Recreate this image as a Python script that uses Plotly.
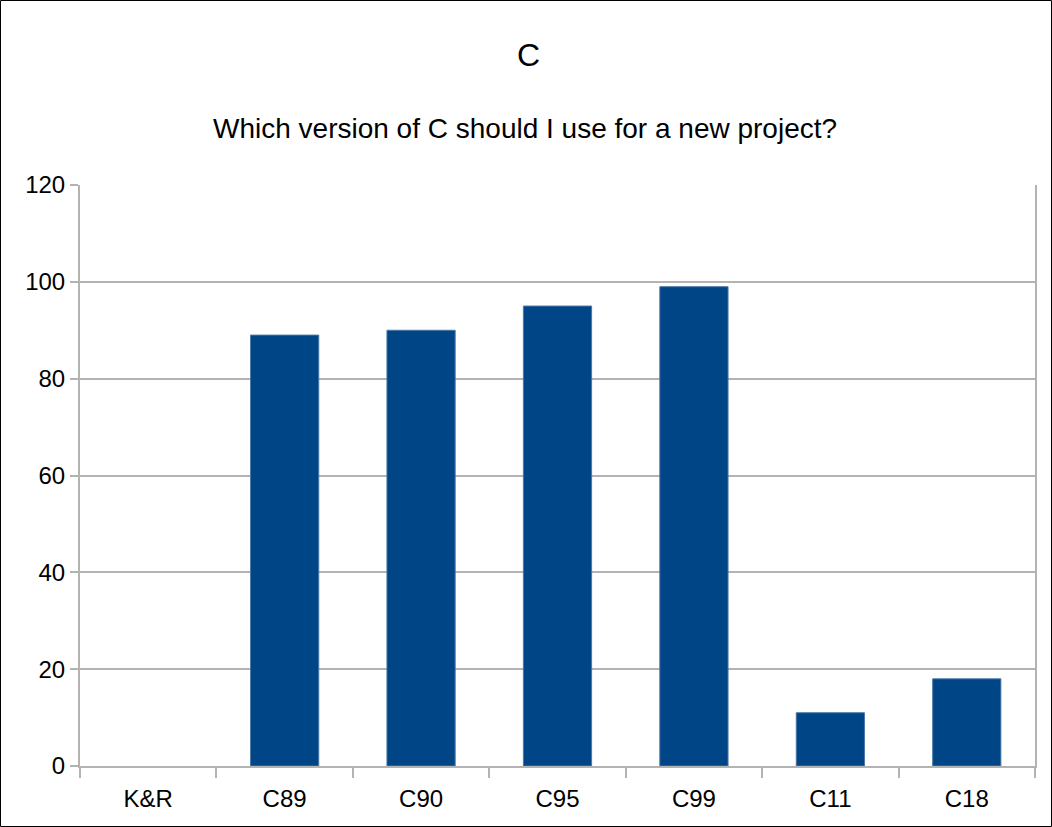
import plotly.graph_objects as go

categories = ["K&R", "C89", "C90", "C95", "C99", "C11", "C18"]
values = [0, 89, 90, 95, 99, 11, 18]
title_text = "C"
subtitle_text = "Which version of C should I use for a new project?"

W, H = 1052, 827
ml, mr, mt, mb = 80, 17, 185, 61
pw, ph = W - ml - mr, H - mt - mb

fig = go.Figure()
fig.add_trace(go.Bar(
    x=categories, y=values, width=0.5,
    marker=dict(color="#004586",
                line=dict(color="#4a78a8", width=[0 if v == 0 else 1 for v in values])),
))

cx = (528 - ml) / pw
fig.update_layout(
    width=W, height=H,
    margin=dict(l=ml, r=mr, t=mt, b=mb),
    paper_bgcolor="white", plot_bgcolor="white",
    font=dict(family="Liberation Sans, Arial, sans-serif", size=24, color="black"),
    showlegend=False,
    annotations=[
        dict(text=title_text, xref="paper", yref="paper", x=cx,
             y=1 + (185 - 55) / ph, xanchor="center", yanchor="middle",
             showarrow=False, font=dict(size=32)),
        dict(text=subtitle_text, xref="paper", yref="paper", x=(524.5 - ml) / pw,
             y=1 + (185 - 128) / ph, xanchor="center", yanchor="middle",
             showarrow=False, font=dict(size=28)),
    ],
    shapes=[
        dict(type="rect", xref="paper", yref="paper",
             x0=(0.5 - ml) / pw, x1=1 + (mr - 0.5) / pw,
             y0=-(mb - 0.5) / ph, y1=1 + (mt - 0.5) / ph,
             line=dict(color="black", width=1), fillcolor="rgba(0,0,0,0)", layer="above"),
    ],
)
fig.update_xaxes(
    type="category", tickson="boundaries", ticks="outside", ticklen=10,
    tickcolor="#b3b3b3", tickwidth=2, showgrid=False,
    showline=True, linecolor="#b3b3b3", linewidth=2,
    tickfont=dict(size=24), fixedrange=True, ticklabelstandoff=10,
)
fig.update_yaxes(
    range=[0, 120], dtick=20, ticks="outside", ticklen=8, tickcolor="#b3b3b3", tickwidth=2,
    showgrid=True, gridcolor="#b3b3b3", gridwidth=1.5,
    showline=True, mirror=True, linecolor="#b3b3b3", linewidth=2,
    zeroline=False, tickfont=dict(size=24), fixedrange=True,
)

fig.write_html("out.html", config={"displayModeBar": False},
               post_script="document.body.style.margin='0';")
